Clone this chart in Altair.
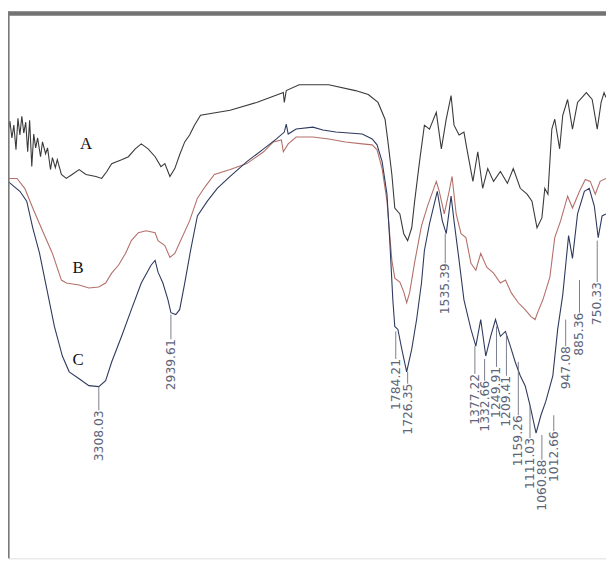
import altair as alt
import pandas as pd

# ---- spectrum A (wavenumber cm-1, transmittance a.u.) ----
wn_A = [3774, 3764, 3754, 3744, 3733, 3723, 3713, 3703, 3693, 3683, 3673, 3663, 3652, 3642, 3632,
        3622, 3607, 3597, 3581, 3571, 3556, 3546, 3531, 3521, 3500,
        3475, 3445, 3409, 3374, 3323, 3293, 3267, 3242, 3217, 3191, 3156, 3121, 3090,
        3055, 3019, 2989, 2969, 2943, 2918, 2893, 2867, 2842, 2817, 2786, 2634, 2498, 2361, 2356,
        2346, 2280, 2128, 1991, 1925, 1875, 1839, 1824, 1804, 1789, 1763, 1743, 1723, 1702, 1687,
        1662, 1637, 1611, 1576, 1550, 1525, 1500, 1485, 1459, 1434, 1419, 1388, 1363, 1338, 1312,
        1282, 1247, 1211, 1181, 1145, 1110, 1085, 1059, 1034, 1019, 1003, 983, 968, 943, 927,
        902, 877, 851, 806, 776, 750, 730, 715, 705]
T_A = [43.2, 44.3, 42.6, 43.9, 41.4, 44.6, 42.9, 44.8, 43.1, 44.2, 41.2, 44.4, 39.7, 43.0, 41.6,
       42.6, 40.7, 42.2, 41.0, 41.6, 39.4, 40.6, 39.6, 40.4, 38.9,
       38.5, 38.9, 39.4, 38.9, 38.7, 38.5, 39.2, 40.0, 40.2, 40.4, 40.7, 41.5, 42.0,
       41.5, 40.7, 39.7, 40.0, 38.7, 39.5, 40.9, 42.2, 42.9, 43.9, 44.9, 45.4, 46.2, 47.2, 46.2,
       47.4, 48.0, 48.0, 47.4, 47.0, 46.2, 44.5, 42.2, 38.9, 35.5, 34.9, 32.9, 32.2, 33.5, 36.2,
       40.2, 43.9, 43.5, 45.2, 41.5, 44.5, 46.9, 43.9, 42.9, 43.2, 41.5, 38.2, 41.2, 37.5, 39.5,
       38.2, 39.2, 38.0, 39.5, 37.5, 36.9, 36.2, 33.5, 34.5, 37.5, 36.9, 43.5, 44.5, 41.5, 44.9,
       46.5, 43.5, 46.2, 47.2, 46.5, 43.5, 46.2, 47.2, 46.7]

# ---- spectrum B ----
wn_B = [3774, 3728, 3688, 3647, 3597, 3546, 3500, 3475, 3409, 3359, 3308, 3273, 3242, 3207, 3171,
        3141, 3105, 3065, 3019, 3004, 2969, 2943, 2918, 2888, 2842, 2802, 2761, 2715, 2634, 2548,
        2462, 2412, 2371, 2361, 2336, 2295, 2209, 2128, 2042, 1956, 1905, 1880, 1854, 1829, 1804,
        1789, 1763, 1743, 1728, 1713, 1687, 1652, 1621, 1576, 1561, 1535, 1510, 1495, 1474, 1449,
        1424, 1398, 1373, 1348, 1317, 1282, 1247, 1221, 1191, 1155, 1120, 1090, 1069, 1054, 1029,
        993, 968, 938, 902, 877, 841, 811, 786, 760, 735, 705]
T_B = [38.5, 38.5, 37.5, 35.5, 33.2, 30.9, 28.2, 27.9, 27.7, 27.4, 27.5, 27.9, 28.9, 29.7, 30.9,
       32.2, 33.0, 33.2, 33.0, 32.2, 31.7, 30.5, 30.9, 32.2, 34.2, 36.5, 37.7, 38.9, 39.4, 40.0,
       41.2, 42.2, 42.4, 41.2, 42.0, 42.7, 42.7, 42.5, 42.2, 42.0, 41.9, 41.4, 39.5, 36.2, 30.2,
       28.4, 28.0, 27.0, 25.9, 26.9, 30.0, 33.7, 35.7, 38.2, 37.2, 34.9, 37.2, 38.7, 34.9, 32.9,
       32.5, 29.9, 29.2, 30.9, 29.5, 28.9, 27.9, 28.2, 26.9, 25.9, 25.2, 24.5, 24.2, 25.0, 26.2,
       28.5, 32.5, 34.2, 36.7, 35.5, 37.2, 38.4, 38.2, 36.9, 38.2, 38.5]

# ---- spectrum C ----
wn_C = [3774, 3744, 3713, 3678, 3647, 3612, 3576, 3536, 3495, 3460, 3409, 3359, 3308, 3273, 3242,
        3191, 3141, 3090, 3040, 3019, 3004, 2979, 2953, 2938, 2913, 2893, 2867, 2837, 2802, 2751,
        2700, 2634, 2548, 2462, 2396, 2356, 2346, 2336, 2295, 2209, 2158, 2092, 1956, 1905, 1880,
        1854, 1829, 1814, 1799, 1789, 1773, 1753, 1728, 1702, 1677, 1652, 1637, 1611, 1571, 1545,
        1525, 1500, 1485, 1459, 1434, 1398, 1373, 1348, 1322, 1297, 1272, 1247, 1221, 1196, 1171,
        1145, 1120, 1095, 1064, 1039, 1014, 978, 953, 927, 912, 897, 877, 851, 816, 791,
        765, 745, 725, 705]
T_C = [38.2, 37.7, 37.2, 36.2, 33.5, 30.9, 27.4, 23.5, 20.5, 18.9, 18.2, 17.5, 17.4, 18.0, 19.9,
       22.5, 25.2, 27.9, 29.7, 30.2, 29.0, 27.9, 26.2, 24.9, 24.7, 25.2, 27.9, 31.2, 34.7, 36.2,
       37.5, 38.7, 40.2, 41.5, 42.5, 43.2, 44.0, 43.0, 43.5, 43.7, 43.4, 43.2, 43.0, 42.5, 41.9,
       40.2, 36.9, 31.9, 26.2, 23.5, 23.2, 21.2, 18.9, 21.2, 24.2, 27.9, 31.2, 33.9, 37.2, 34.2,
       32.9, 36.7, 34.2, 30.2, 26.2, 23.2, 21.5, 24.2, 20.5, 22.5, 24.2, 22.5, 23.0, 21.5, 19.9,
       18.5, 17.5, 15.5, 12.7, 14.5, 15.9, 18.5, 23.2, 26.7, 29.7, 32.7, 30.4, 34.9, 37.2, 37.5,
       35.7, 32.5, 34.7, 34.9]

# ---- peak annotations ----
peak_labels = ["3308.03", "2939.61", "1784.21", "1726.35", "1535.39", "1377.22", "1332.66",
               "1249.91", "1209.41", "1159.26", "1111.03", "1060.88", "1012.66", "947.08",
               "885.36", "750.33"]
peak_pos = [3308, 2938, 1784, 1723, 1530, 1378, 1328, 1267, 1216, 1155, 1095, 1034, 973, 912,
            841, 750]
peak_curve_T = [17.4, 24.7, 23.0, 18.9, 32.9, 21.5, 20.2, 23.5, 22.7, 19.9, 15.5, 12.5, 14.5,
                24.2, 28.2, 32.2]
peak_top_T = [15.0, 22.2, 20.2, 17.7, 29.9, 18.7, 18.0, 19.4, 18.5, 14.5, 12.2, 10.0, 12.9,
              21.5, 24.9, 28.0]

# ---- series labels ----
series_names = ["A", "B", "C"]
series_label_wn = [3374, 3414, 3414]
series_label_T = [42.0, 29.4, 20.1]
series_colors = ["#3a3a3a", "#b4706a", "#2e3a5e"]

rows = []
for name, wns, ts in (("A", wn_A, T_A), ("B", wn_B, T_B), ("C", wn_C, T_C)):
    for i, (w, t) in enumerate(zip(wns, ts)):
        rows.append({"series": name, "wn": w, "T": t, "idx": i})
spec = pd.DataFrame(rows)

peaks = pd.DataFrame({"label": peak_labels, "pos": peak_pos,
                      "curveT": peak_curve_T, "topT": peak_top_T})
names = pd.DataFrame({"name": series_names, "wn": series_label_wn, "T": series_label_T})

W, H = 606, 554
xs = alt.Scale(domain=[3774, 705], nice=False, zero=False)
ys = alt.Scale(domain=[0, 55.4], nice=False, zero=False)

lines = alt.Chart(spec).mark_line(strokeWidth=1.1).encode(
    x=alt.X("wn:Q", scale=xs, axis=None),
    y=alt.Y("T:Q", scale=ys, axis=None),
    color=alt.Color("series:N", scale=alt.Scale(domain=series_names, range=series_colors),
                    legend=None),
    order="idx:Q",
)

leaders = alt.Chart(peaks).mark_rule(color="#6a7080", strokeWidth=0.9).encode(
    x=alt.X("pos:Q", scale=xs, axis=None),
    y=alt.Y("curveT:Q", scale=ys, axis=None),
    y2="topT:Q",
)

peak_text = alt.Chart(peaks).mark_text(
    angle=270, align="right", baseline="middle", font="DejaVu Sans", fontSize=12.5,
    color="#5d6478",
).encode(
    x=alt.X("pos:Q", scale=xs, axis=None),
    y=alt.Y("topT:Q", scale=ys, axis=None),
    text="label:N",
)

name_text = alt.Chart(names).mark_text(
    font="Liberation Serif", fontSize=17, color="#111111", align="center", baseline="middle",
).encode(
    x=alt.X("wn:Q", scale=xs, axis=None),
    y=alt.Y("T:Q", scale=ys, axis=None),
    text="name:N",
)

frame_df = pd.DataFrame({"k": [0]})
top_edge = alt.Chart(frame_df).mark_rule(color="#737373", strokeWidth=4.5).encode(
    x=alt.value(0), x2=alt.value(W), y=alt.value(1.8)
)
left_edge = alt.Chart(frame_df).mark_rule(color="#7a7a7a", strokeWidth=2.5).encode(
    x=alt.value(0.4), y=alt.value(0), y2=alt.value(H)
)

chart = alt.layer(lines, leaders, peak_text, name_text, top_edge, left_edge).properties(
    width=W, height=H, padding=0, autosize=alt.AutoSizeParams(type="none"),
).configure_view(stroke=None).configure(background="white")

chart.save("out.html", embed_options={"renderer": "svg", "actions": False})
